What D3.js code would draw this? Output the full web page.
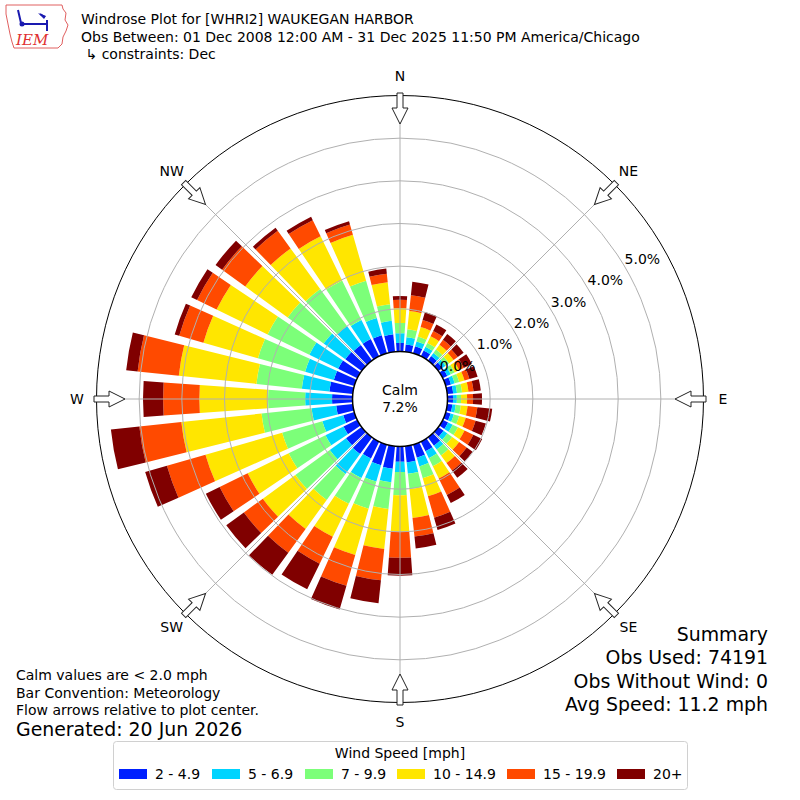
<!DOCTYPE html>
<html>
<head>
<meta charset="utf-8">
<script src="https://cdn.jsdelivr.net/npm/d3@7"></script>
<style>
  body { margin: 0; background: #fff; }
  svg { display: block; font-family: "DejaVu Sans", sans-serif; }
</style>
</head>
<body>
<svg id="chart" width="800" height="800"></svg>
<script>

// wind directions (deg, meteorological) and speed bins
var directions = d3.range(0, 360, 10);
var speedBins = ["2 - 4.9", "5 - 6.9", "7 - 9.9", "10 - 14.9", "15 - 19.9", "20+"];
var binColors = ["#0020ff", "#00d4ff", "#7cff79", "#ffe600", "#ff4a00", "#800000"];
var ringTicks = [0, 1, 2, 3, 4, 5];
var compassLabels = ["N", "NE", "E", "SE", "S", "SW", "W", "NW"];
var compassAngles = [0, 45, 90, 135, 180, 225, 270, 315];
var calmPct = 7.2;

// frequency [%] per direction, one array per speed bin
var spd2to5 = [0.20,0.17,0.17,0.15,0.13,0.12,0.12,0.13,0.14,0.13,0.12,0.12,0.14,0.15,0.24,0.25,0.32,0.38,
               0.36,0.53,0.50,0.44,0.48,0.45,0.36,0.27,0.39,0.48,0.55,0.50,0.50,0.47,0.45,0.45,0.44,0.41];
var spd5to7 = [0.23,0.17,0.12,0.10,0.09,0.09,0.09,0.09,0.09,0.09,0.08,0.08,0.12,0.11,0.11,0.18,0.21,0.27,
               0.24,0.32,0.40,0.51,0.58,0.47,0.47,0.51,0.58,0.63,0.65,0.70,0.75,0.63,0.55,0.50,0.42,0.32];
var spd7to10 = [0.24,0.19,0.12,0.10,0.10,0.10,0.10,0.11,0.12,0.10,0.12,0.13,0.14,0.14,0.17,0.21,0.29,0.36,
                0.54,0.63,0.66,0.67,0.75,1.00,0.96,0.98,1.18,0.87,1.07,1.15,1.09,1.04,1.07,1.03,0.91,0.39];
var spd10to15 = [0.35,0.43,0.23,0.17,0.14,0.13,0.12,0.13,0.15,0.14,0.16,0.16,0.17,0.20,0.22,0.32,0.44,0.68,
                 0.86,0.94,1.13,0.86,0.84,0.94,1.07,1.87,1.89,1.61,1.83,1.33,1.33,1.23,1.18,1.15,1.12,0.52];
var spd15to20 = [0.19,0.37,0.17,0.14,0.14,0.12,0.12,0.12,0.12,0.14,0.23,0.24,0.23,0.22,0.22,0.43,0.52,0.44,
                 0.61,0.74,0.75,0.70,0.69,0.55,0.73,0.94,0.99,0.85,0.97,0.59,0.51,0.67,0.51,0.42,0.25,0.20];
var spd20up = [0.09,0.32,0.20,0.17,0.17,0.17,0.21,0.20,0.17,0.21,0.35,0.25,0.23,0.17,0.21,0.21,0.30,0.28,
               0.42,0.54,0.58,0.67,0.64,0.51,0.36,0.53,0.67,0.47,0.27,0.11,0.15,0.19,0.09,0.09,0.08,0.12];

var binSeries = [spd2to5, spd5to7, spd7to10, spd10to15, spd15to20, spd20up];

var svg = d3.select("#chart");
var cx = 400, cy = 399;
var calmR = 47.5, outerR = 303.5;

// radial scale, 0% sits on the calm circle
var r = d3.scaleLinear().domain([0, 6]).range([calmR, outerR]);

// table for the stack
var table = directions.map(function(d, i){
  var row = {dir: d};
  speedBins.forEach(function(b, j){ row[b] = binSeries[j][i]; });
  return row;
});
var stacked = d3.stack().keys(speedBins)(table);

var g = svg.append("g").attr("transform", "translate(" + cx + "," + cy + ")");

// outer frame
g.append("circle").attr("r", outerR).attr("fill", "none").attr("stroke", "#000").attr("stroke-width", 1);

// bars
var half = 4 * Math.PI / 180;
var arc = d3.arc();
stacked.forEach(function(layer, j){
  g.append("g").selectAll("path")
    .data(layer)
    .enter().append("path")
    .attr("fill", binColors[j])
    .attr("d", function(d){
      var a = d.data.dir * Math.PI / 180;
      return arc({innerRadius: r(d[0]), outerRadius: r(d[1]), startAngle: a - half, endAngle: a + half});
    });
});

// grid rings and spokes on top of bars
g.append("g").selectAll("circle")
  .data(ringTicks.slice(1))
  .enter().append("circle")
  .attr("r", function(d){ return r(d); })
  .attr("fill", "none").attr("stroke", "#b0b0b0").attr("stroke-width", 1);

g.append("g").selectAll("line")
  .data(compassAngles)
  .enter().append("line")
  .attr("x1", function(d){ return calmR * Math.sin(d * Math.PI / 180); })
  .attr("y1", function(d){ return -calmR * Math.cos(d * Math.PI / 180); })
  .attr("x2", function(d){ return outerR * Math.sin(d * Math.PI / 180); })
  .attr("y2", function(d){ return -outerR * Math.cos(d * Math.PI / 180); })
  .attr("stroke", "#b0b0b0").attr("stroke-width", 1);

// calm circle
g.append("circle").attr("r", calmR).attr("fill", "#fff").attr("stroke", "#000").attr("stroke-width", 1.5);
g.append("text").attr("x", 0).attr("y", -4).attr("text-anchor", "middle").attr("font-size", 14).text("Calm");
g.append("text").attr("x", 0).attr("y", 13).attr("text-anchor", "middle").attr("font-size", 14).text(calmPct.toFixed(1) + "%");

// ring labels along 60 degrees
var labAng = 60 * Math.PI / 180;
g.append("g").selectAll("text")
  .data(ringTicks)
  .enter().append("text")
  .attr("x", function(d){ return (r(d) + 19) * Math.sin(labAng); })
  .attr("y", function(d){ return -(r(d) + 19) * Math.cos(labAng); })
  .attr("text-anchor", "middle").attr("dominant-baseline", "central")
  .attr("font-size", 14)
  .text(function(d){ return d.toFixed(1) + "%"; });

// flow arrows pointing at center
var arrowPts = [[0, -275], [8, -291], [3, -291], [3, -306], [-3, -306], [-3, -291], [-8, -291]];
g.append("g").selectAll("polygon")
  .data(compassAngles)
  .enter().append("polygon")
  .attr("points", arrowPts.map(function(p){ return p.join(","); }).join(" "))
  .attr("transform", function(d){ return "rotate(" + d + ")"; })
  .attr("fill", "#fff").attr("stroke", "#222").attr("stroke-width", 1);

// compass labels
g.append("g").selectAll("text")
  .data(compassAngles)
  .enter().append("text")
  .attr("x", function(d){ return 323 * Math.sin(d * Math.PI / 180); })
  .attr("y", function(d){ return -323 * Math.cos(d * Math.PI / 180); })
  .attr("text-anchor", "middle").attr("dominant-baseline", "central")
  .attr("font-size", 14)
  .text(function(d, i){ return compassLabels[i]; });

// title block
var titleLines = ["Windrose Plot for [WHRI2] WAUKEGAN HARBOR",
  "Obs Between: 01 Dec 2008 12:00 AM - 31 Dec 2025 11:50 PM America/Chicago",
  " \u21b3 constraints: Dec"];
svg.append("g").selectAll("text")
  .data(titleLines)
  .enter().append("text")
  .attr("x", 81).attr("y", function(d, i){ return 24 + i * 17.5; })
  .attr("font-size", 14).attr("xml:space", "preserve")
  .text(function(d){ return d; });

// IEM logo
var logo = svg.append("g");
logo.append("path")
  .attr("d", "M6,5 L62,5 L63,9 L66,13 L65,20 L68,25 L66,31 L63,37 L62,44 L58,48 L14,48 L12,42 L10,34 L8,24 L6,14 Z")
  .attr("fill", "#fff").attr("stroke", "#e06060").attr("stroke-width", 1);
logo.append("path")
  .attr("d", "M18,10 L21,23 M21,24 L47,24 M47,20 L47,31 M40,14 L45,17")
  .attr("fill", "none").attr("stroke", "#1a1ab0").attr("stroke-width", 2);
logo.append("path").attr("d", "M38,13 L46,16 L44,19 Z").attr("fill", "#1a1ab0");
logo.append("circle").attr("cx", 22).attr("cy", 24).attr("r", 2.5).attr("fill", "#1a1ab0");
logo.append("text").attr("x", 16).attr("y", 45).attr("font-family", "'DejaVu Serif', serif")
  .attr("font-style", "italic").attr("font-size", 15).attr("fill", "#e03030").text("IEM");

// notes bottom left
var notes = ["Calm values are < 2.0 mph", "Bar Convention: Meteorology", "Flow arrows relative to plot center."];
svg.append("g").selectAll("text")
  .data(notes)
  .enter().append("text")
  .attr("x", 16).attr("y", function(d, i){ return 680 + i * 17.5; })
  .attr("font-size", 14)
  .text(function(d){ return d; });
svg.append("text").attr("x", 16).attr("y", 736).attr("font-size", 18.9).text("Generated: 20 Jun 2026");

// summary bottom right
var summary = ["Summary", "Obs Used: 74191", "Obs Without Wind: 0", "Avg Speed: 11.2 mph"];
svg.append("g").selectAll("text")
  .data(summary)
  .enter().append("text")
  .attr("x", 768).attr("y", function(d, i){ return 641 + i * 23.3; })
  .attr("text-anchor", "end").attr("font-size", 18.9)
  .text(function(d){ return d; });

// legend
var legend = svg.append("g");
legend.append("rect").attr("x", 113.5).attr("y", 741.5).attr("width", 574).attr("height", 48)
  .attr("rx", 3).attr("fill", "#fff").attr("stroke", "#d0d0d0");
legend.append("text").attr("x", 400).attr("y", 758).attr("text-anchor", "middle").attr("font-size", 14)
  .text("Wind Speed [mph]");
var legX = [119, 212, 305, 397, 507, 617];
var item = legend.selectAll("g.item")
  .data(speedBins)
  .enter().append("g")
  .attr("transform", function(d, i){ return "translate(" + legX[i] + ",769)"; });
item.append("rect").attr("width", 28).attr("height", 10).attr("fill", function(d, i){ return binColors[i]; });
item.append("text").attr("x", 36).attr("y", 10).attr("font-size", 14).text(function(d){ return d; });

</script>
</body>
</html>
